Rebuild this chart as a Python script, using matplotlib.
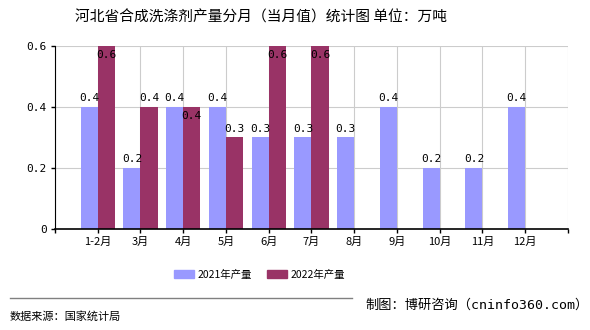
import matplotlib.pyplot as plt
import numpy as np

plt.rcParams['font.family'] = ['Noto Sans CJK SC', 'DejaVu Sans']

# 数据
months = ['1-2月', '3月', '4月', '5月', '6月', '7月', '8月', '9月', '10月', '11月', '12月']
y2021 = [0.4, 0.2, 0.4, 0.4, 0.3, 0.3, 0.3, 0.4, 0.2, 0.2, 0.4]
y2022 = [0.6, 0.4, 0.4, 0.3, 0.6, 0.6, None, None, None, None, None]
yticks = [0, 0.2, 0.4, 0.6]
ytick_labels = ['0', '0.2', '0.4', '0.6']

c2021 = '#9999ff'
c2022 = '#993366'
mono = 'DejaVu Sans Mono'

fig = plt.figure(figsize=(5.9, 3.3), dpi=100)
ax = fig.add_axes([0.0932, 0.3061, 0.8695, 0.5545])

x = np.arange(len(months))
w = 0.4
ax.bar(x - w / 2, y2021, w, color=c2021, zorder=2)
x22 = [i for i, v in enumerate(y2022) if v is not None]
v22 = [y2022[i] for i in x22]
ax.bar(np.array(x22) + w / 2, v22, w, color=c2022, zorder=2)

ax.set_xlim(-1, 11)
ax.set_ylim(0, 0.6)

# 数据标签
for i, v in enumerate(y2021):
    ax.text(x[i] - w / 2, v + 0.012, str(v), ha='center', va='bottom',
            fontsize=8, family=mono, zorder=3)
for i, v in zip(x22, v22):
    if v >= 0.6 or v == y2021[i]:
        # 顶部放不下或与2021标签重叠时放在柱内
        ax.text(i + w / 2, v - 0.012, str(v), ha='center', va='top',
                fontsize=8, family=mono, zorder=3)
    else:
        ax.text(i + w / 2, v + 0.012, str(v), ha='center', va='bottom',
                fontsize=8, family=mono, zorder=3)

# 坐标轴
ax.set_xticks(np.arange(-1, 12))
ax.set_xticklabels([''] + months + [''], fontsize=8)
ax.set_yticks(yticks)
ax.set_yticklabels(ytick_labels, family=mono, fontsize=8)
ax.tick_params(axis='x', length=3, width=1, color='black', pad=3)
ax.tick_params(axis='y', length=3, width=1, color='black', pad=3)
ax.grid(True, color='#cccccc', linewidth=0.8, zorder=0)
ax.spines['top'].set_visible(False)
ax.spines['right'].set_visible(False)
ax.spines['left'].set_color('black')
ax.spines['bottom'].set_color('black')
ax.spines['bottom'].set_linewidth(1.2)

# 标题
fig.text(0.442, 0.948, '河北省合成洗涤剂产量分月（当月值）统计图 单位：万吨',
         ha='center', va='center', fontsize=10.6)

# 图例
ax.legend([plt.Rectangle((0, 0), 1, 1, color=c2021), plt.Rectangle((0, 0), 1, 1, color=c2022)],
          ['2021年产量', '2022年产量'], loc='center', bbox_to_anchor=(0.44, 0.167, 0, 0),
          bbox_transform=fig.transFigure, ncol=2, frameon=False, fontsize=7.5,
          handlelength=1.9, handleheight=0.8, columnspacing=1.4, handletextpad=0.4)

# 底部
fig.add_artist(plt.Line2D([0.017, 0.597], [0.097, 0.097], color='#808080', linewidth=1))
fig.text(0.017, 0.042, '数据来源：国家统计局', ha='left', va='center', fontsize=8)
fig.text(0.997, 0.075, '制图：博研咨询（cninfo360.com）', ha='right', va='center',
         fontsize=9.5, family=[mono, 'Noto Sans CJK SC'])

plt.savefig('out.png', dpi=100)
